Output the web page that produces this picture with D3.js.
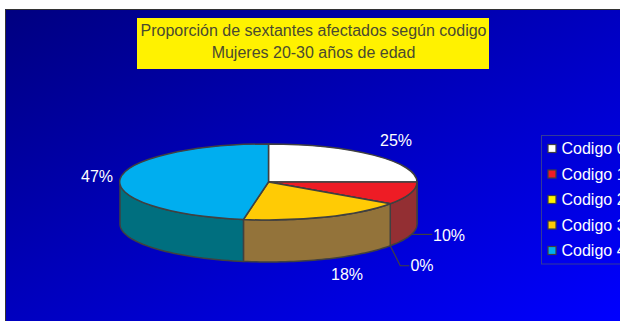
<!DOCTYPE html>
<html><head><meta charset="utf-8">
<script src="https://cdn.jsdelivr.net/npm/d3@7"></script>
<style>html,body{margin:0;padding:0;background:#fff;overflow:hidden}svg{display:block}text{font-family:"Liberation Sans",Arial,sans-serif}</style>
</head><body><svg id="c" width="620" height="321"></svg>
<script>
const categories = ["Codigo 0","Codigo 1","Codigo 2","Codigo 3","Codigo 4"];
const values = [25,9.7,0,18,47.3];
const topColors = ["#ffffff","#ee1c25","#fff200","#ffcb05","#00aeef"];
const sideColors = ["#808080","#932f33","#807900","#93733a","#006f7f"];
const titleLines = ["Proporción de sextantes afectados según codigo","Mujeres 20-30 años de edad"];

const W=620,H=321,cx=268.5,cy=182,rx=148.5,ry=38,depth=42,edge="#404040";
const svg=d3.select("#c");
const defs=svg.append("defs");
const g=defs.append("linearGradient").attr("id","bg")
 .attr("x1",0).attr("y1",0).attr("x2",1).attr("y2",1);
g.append("stop").attr("offset",0).attr("stop-color","#000080");
g.append("stop").attr("offset",1).attr("stop-color","#0000ff");
svg.append("rect").attr("x",5).attr("y",9).attr("width",W-5).attr("height",H-9).attr("fill","url(#bg)");
svg.append("path").attr("d","M5.5,321V9.5H620").attr("fill","none").attr("stroke","#333");

// title
svg.append("rect").attr("x",137).attr("y",18).attr("width",352).attr("height",51).attr("fill","#fff200");
svg.append("text").attr("text-anchor","middle").attr("font-size",16).attr("fill","#4a4a30")
 .selectAll("tspan").data(titleLines).join("tspan").attr("x",313.5).attr("y",(d,i)=>36+i*22).text(d=>d);

// pie
const arcs=d3.pie().sort(null).value(d=>d)(values);
const px=a=>cx+rx*Math.sin(a), py=(a,dy=0)=>cy-ry*Math.cos(a)+dy;
const line=d3.line().x(d=>d[0]).y(d=>d[1]);
const sides=svg.append("g");
arcs.forEach((a,i)=>{
  const s=Math.max(a.startAngle,Math.PI/2), e=Math.min(a.endAngle,3*Math.PI/2);
  if(e<=s) return;
  const n=40, ang=d3.range(n+1).map(k=>s+(e-s)*k/n);
  const pts=ang.map(t=>[px(t),py(t)]).concat(ang.slice().reverse().map(t=>[px(t),py(t,depth)]));
  sides.append("path").attr("d",line(pts)+"Z").attr("fill",sideColors[i]).attr("stroke",edge).attr("stroke-width",1.5).attr("stroke-linejoin","round");
});
const arc=d3.arc().innerRadius(0).outerRadius(1);
svg.append("g").attr("transform",`translate(${cx},${cy}) scale(${rx},${ry})`)
 .selectAll("path").data(arcs).join("path").attr("d",arc)
 .attr("fill",(d,i)=>topColors[i]).attr("stroke",edge).attr("stroke-width",1.5)
 .attr("vector-effect","non-scaling-stroke").attr("stroke-linejoin","round");

// leaders
const mid=a=>(a.startAngle+a.endAngle)/2;
const a1=mid(arcs[1]), a2=mid(arcs[2]);
svg.append("path").attr("d",line([[px(a1)+2,py(a1,depth)-1],[px(a1)+22,py(a1,depth)-1]]))
 .attr("fill","none").attr("stroke",edge).attr("stroke-width",1.2);
svg.append("path").attr("d",line([[px(a2),py(a2,depth)],[px(a2)+10,py(a2,depth)+20],[px(a2)+19,py(a2,depth)+20]]))
 .attr("fill","none").attr("stroke",edge).attr("stroke-width",1.2);

// data labels
const labelAt=[[396,146],[449,241],[422,271],[347,280],[97,182]];
svg.append("g").selectAll("text").data(values).join("text")
 .attr("x",(d,i)=>labelAt[i][0]).attr("y",(d,i)=>labelAt[i][1])
 .attr("text-anchor","middle").attr("font-size",16).attr("fill","#fff").text(d=>Math.round(d)+"%");

// legend
svg.append("rect").attr("x",541.5).attr("y",135.5).attr("width",100).attr("height",128.5)
 .attr("fill","none").attr("stroke","#333a99");
const lg=svg.append("g").selectAll("g").data(categories).join("g")
 .attr("transform",(d,i)=>`translate(0,${148.5+i*25.5})`);
lg.append("rect").attr("x",548).attr("y",-4).attr("width",8).attr("height",8)
 .attr("fill",(d,i)=>topColors[i]).attr("stroke",edge).attr("stroke-width",1.2);
lg.append("text").attr("x",561.5).attr("y",5.5).attr("font-size",16).attr("fill","#fff").text(d=>d);
</script></body></html>
